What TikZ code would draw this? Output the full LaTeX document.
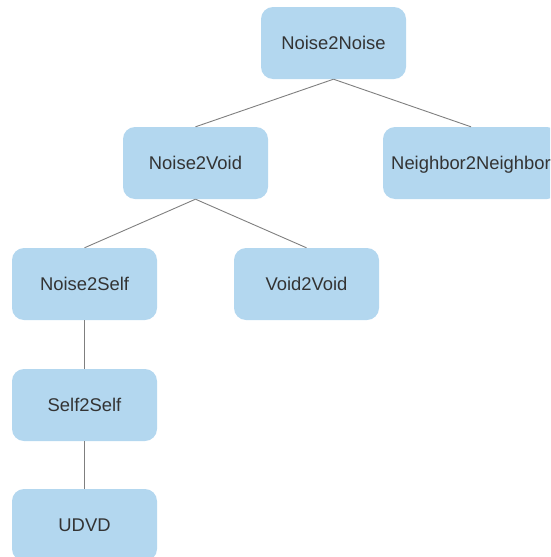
\documentclass[tikz,border=0pt]{standalone}
\usepackage{fontspec}
\setmainfont{Liberation Sans}
\definecolor{boxblue}{HTML}{B3D7EF}
\definecolor{edgegray}{HTML}{7F7F7F}
\definecolor{txtgray}{HTML}{333333}
\begin{document}
\begin{tikzpicture}[x=1pt,y=-1pt,
  box/.style={rectangle,rounded corners=12pt,fill=boxblue,draw=none,
    minimum width=145pt,minimum height=72pt,inner sep=0pt,
    text height=13.3pt,text depth=0pt,
    text=txtgray,font=\fontsize{18.4}{21}\selectfont},
  edge/.style={draw=edgegray,line width=0.9pt}]
\useasboundingbox (0,0) rectangle (550,557);
\clip (0,0) rectangle (550,557);
\node[box] (nn) at (333.5,43) {Noise2Noise};
\node[box] (nv) at (195.5,163) {Noise2Void};
\node[box,minimum width=176pt] (nb) at (471,163) {Neighbor2Neighbor};
\node[box] (ns) at (84.5,284) {Noise2Self};
\node[box] (vv) at (306.5,284) {Void2Void};
\node[box] (ss) at (84.5,405) {Self2Self};
\node[box] (ud) at (84.5,525) {UDVD};
\draw[edge] (nn.south) -- (nv.north);
\draw[edge] (nn.south) -- (nb.north);
\draw[edge] (nv.south) -- (ns.north);
\draw[edge] (nv.south) -- (vv.north);
\draw[edge] (ns.south) -- (ss.north);
\draw[edge] (ss.south) -- (ud.north);
\end{tikzpicture}
\end{document}
